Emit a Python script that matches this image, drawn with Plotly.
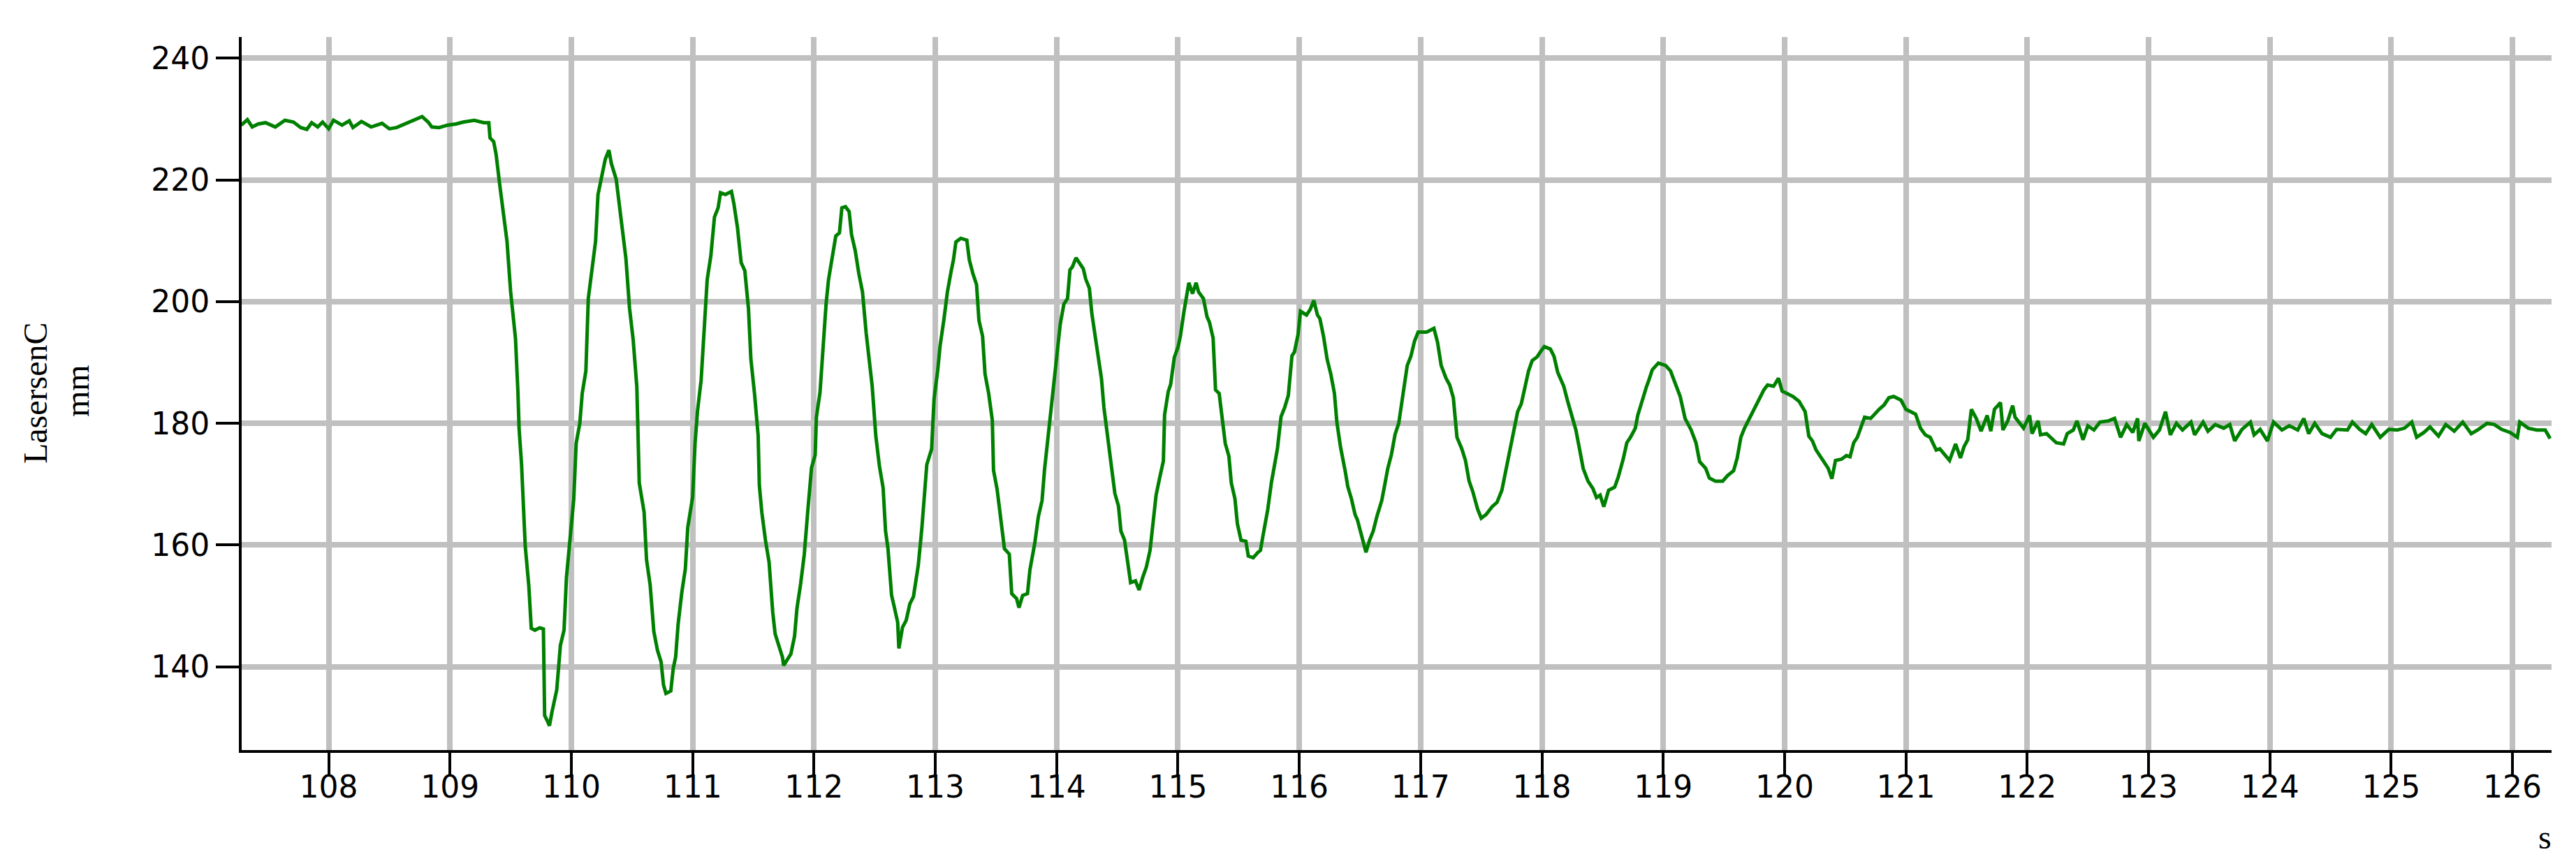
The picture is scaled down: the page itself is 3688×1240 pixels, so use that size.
import plotly.graph_objects as go

# time (s)
t_flat = [107.28, 107.33, 107.37, 107.42, 107.48, 107.56, 107.64, 107.71, 107.77, 107.82, 107.86,
          107.91, 107.95, 108.00, 108.04, 108.11, 108.17, 108.20, 108.27, 108.35, 108.44, 108.50,
          108.56, 108.65, 108.70, 108.77, 108.82, 108.85, 108.91, 108.98, 109.05, 109.11, 109.20,
          109.28, 109.32]
v_flat = [229.0, 229.9, 228.7, 229.2, 229.4, 228.7, 229.8, 229.5, 228.6, 228.3, 229.4,
          228.7, 229.5, 228.4, 229.8, 229.0, 229.7, 228.6, 229.6, 228.7, 229.3, 228.4,
          228.6, 229.4, 229.8, 230.4, 229.5, 228.7, 228.6, 229.0, 229.2, 229.5, 229.8,
          229.4, 229.4]

t_osc = [109.33, 109.36, 109.38, 109.41, 109.44, 109.47, 109.50, 109.54, 109.56, 109.57, 109.59,
         109.62, 109.65, 109.67, 109.70, 109.74, 109.77, 109.78, 109.80, 109.82, 109.84, 109.86,
         109.88, 109.91, 109.94, 109.96, 109.99, 110.02, 110.04, 110.07, 110.09, 110.12, 110.14,
         110.17, 110.20, 110.22, 110.25, 110.28, 110.31, 110.33, 110.37, 110.39, 110.42, 110.45,
         110.48, 110.51, 110.54, 110.56, 110.60, 110.62, 110.65, 110.68, 110.71, 110.74, 110.76,
         110.78, 110.82, 110.84, 110.86, 110.88, 110.91, 110.94, 110.96, 111.00, 111.02, 111.04,
         111.07, 111.10, 111.12, 111.15, 111.18, 111.21, 111.23, 111.27, 111.32, 111.34, 111.37,
         111.40, 111.43, 111.46, 111.48, 111.51, 111.54, 111.55, 111.57, 111.60, 111.63, 111.66,
         111.68, 111.71, 111.74, 111.75, 111.78, 111.81, 111.84, 111.86, 111.89, 111.92, 111.95,
         111.98, 112.01, 112.02, 112.05, 112.08, 112.10, 112.12, 112.16, 112.18, 112.21, 112.23,
         112.26, 112.29, 112.31, 112.34, 112.37, 112.40, 112.43, 112.45, 112.48, 112.51, 112.54,
         112.57, 112.59, 112.61, 112.64, 112.66, 112.69, 112.70, 112.73, 112.76, 112.79, 112.82,
         112.86, 112.89, 112.93, 112.97, 112.99, 113.02, 113.04, 113.07, 113.10, 113.13, 113.15,
         113.17, 113.21, 113.26, 113.28, 113.31, 113.34, 113.36, 113.39, 113.41, 113.44, 113.47,
         113.48, 113.51, 113.54, 113.57, 113.61, 113.63, 113.67, 113.69, 113.72, 113.76, 113.78,
         113.82, 113.85, 113.88, 113.90, 113.93, 113.95, 113.98, 114.00, 114.03, 114.06, 114.09,
         114.11, 114.13, 114.16, 114.19, 114.22, 114.24, 114.27, 114.29, 114.32, 114.35, 114.37,
         114.39, 114.42, 114.45, 114.48, 114.51, 114.53, 114.56, 114.58, 114.61, 114.65, 114.68,
         114.71, 114.74, 114.77, 114.79, 114.82, 114.85, 114.88, 114.89, 114.92, 114.94, 114.97,
         115.00, 115.02, 115.05, 115.07, 115.09, 115.12, 115.15, 115.17, 115.21, 115.24, 115.26,
         115.29, 115.31, 115.34, 115.36, 115.39, 115.42, 115.44, 115.47, 115.49, 115.52, 115.56,
         115.58, 115.62, 115.66, 115.68, 115.70, 115.74, 115.77, 115.80, 115.82, 115.85, 115.88,
         115.91, 115.94, 115.96, 115.99, 116.01, 116.06, 116.09, 116.12, 116.15, 116.17, 116.20,
         116.23, 116.26, 116.29, 116.31, 116.34, 116.38, 116.40, 116.43, 116.46, 116.48, 116.51,
         116.55, 116.58, 116.61, 116.64, 116.68, 116.70, 116.73, 116.76, 116.79, 116.82, 116.86,
         116.89, 116.92, 116.95, 116.98, 117.05, 117.11, 117.14, 117.17, 117.21, 117.24, 117.27,
         117.30, 117.34, 117.37, 117.40, 117.43, 117.47, 117.50, 117.54, 117.59, 117.63, 117.67,
         117.70, 117.73, 117.76, 117.80, 117.83, 117.86, 117.89, 117.92, 117.96, 117.99, 118.02,
         118.07, 118.10, 118.13, 118.18, 118.21, 118.25, 118.28, 118.31, 118.34, 118.38, 118.42,
         118.45, 118.48, 118.51, 118.55, 118.60, 118.63, 118.67, 118.70, 118.73, 118.77, 118.79,
         118.82, 118.86, 118.88, 118.91, 118.96, 119.02, 119.06, 119.09, 119.14, 119.18, 119.23,
         119.27, 119.30, 119.35, 119.38, 119.43, 119.49, 119.53, 119.58, 119.61, 119.64, 119.67,
         119.70, 119.73, 119.76, 119.80, 119.83, 119.86, 119.91, 119.95, 119.98, 120.03, 120.07,
         120.12, 120.17, 120.20, 120.23, 120.26, 120.29, 120.32, 120.36, 120.39, 120.42, 120.47,
         120.51, 120.54, 120.57, 120.60, 120.63, 120.66, 120.71, 120.74, 120.78, 120.82, 120.86,
         120.90, 120.96, 121.00, 121.04, 121.08, 121.12, 121.16, 121.20, 121.25, 121.28, 121.31,
         121.36, 121.41, 121.45, 121.48, 121.51]
v_osc = [226.9, 226.3, 224.2, 219.2, 215.0, 209.9, 201.6, 193.9, 185.1, 179.0, 173.2,
         159.9, 153.2, 146.3, 146.0, 146.4, 146.2, 132.0, 131.2, 130.3, 132.5, 134.1,
         136.2, 143.5, 146.0, 154.7, 161.8, 167.5, 176.7, 180.0, 184.9, 188.6, 200.5,
         204.7, 209.9, 217.6, 220.7, 223.4, 224.9, 222.7, 220.1, 217.0, 211.3, 207.1,
         198.9, 193.7, 186.0, 170.2, 165.4, 157.6, 153.4, 145.8, 142.7, 140.8, 137.0,
         135.6, 136.0, 139.7, 141.6, 146.9, 152.1, 156.1, 162.9, 167.9, 176.7, 182.0,
         187.1, 196.7, 203.6, 207.5, 213.9, 215.4, 217.9, 217.6, 218.1, 216.1, 212.1,
         206.4, 205.1, 198.9, 190.6, 184.9, 178.0, 169.8, 165.4, 160.8, 157.2, 149.0,
         145.4, 143.5, 141.6, 140.2, 141.2, 142.1, 145.0, 149.6, 153.6, 158.4, 165.8,
         172.7, 174.8, 181.0, 185.1, 194.8, 199.6, 203.6, 208.8, 210.8, 211.3, 215.4,
         215.6, 214.8, 211.0, 208.4, 204.6, 201.6, 194.9, 191.4, 186.1, 177.9, 172.9,
         169.4, 162.3, 159.4, 151.7, 150.0, 147.3, 143.0, 146.5, 147.6, 150.3, 151.5,
         156.7, 162.9, 173.2, 175.8, 184.0, 188.7, 192.8, 196.9, 201.6, 204.9, 206.9,
         209.8, 210.4, 210.1, 206.9, 204.6, 202.8, 196.9, 194.3, 188.1, 184.9, 180.5,
         172.3, 169.1, 164.4, 159.4, 158.5, 152.0, 151.2, 149.7, 151.7, 152.0, 155.9,
         160.3, 164.7, 167.3, 172.3, 177.9, 181.1, 187.5, 191.1, 196.3, 199.6, 200.5,
         205.2, 205.7, 207.2, 206.3, 205.4, 203.7, 202.2, 198.1, 194.0, 190.2, 187.3,
         182.6, 177.6, 173.2, 168.5, 166.4, 162.3, 160.8, 157.6, 153.8, 154.1, 152.6,
         154.7, 156.4, 159.1, 162.3, 168.2, 171.1, 173.8, 181.4, 185.2, 186.4, 190.8,
         192.5, 194.3, 198.4, 201.0, 203.1, 201.3, 203.1, 201.6, 200.5, 197.5, 196.6,
         194.0, 185.5, 184.9, 181.1, 176.7, 174.6, 170.2, 167.6, 163.5, 160.8, 160.6,
         158.2, 157.9, 158.8, 159.1, 161.4, 165.8, 170.2, 173.8, 175.8, 181.1, 182.6,
         184.6, 191.1, 191.7, 194.6, 198.4, 197.8, 198.7, 200.2, 197.8, 197.2, 194.3,
         190.5, 188.1, 184.9, 180.2, 176.1, 172.0, 169.6, 167.6, 165.0, 164.1, 161.7,
         158.8, 160.8, 162.3, 164.7, 167.3, 169.4, 172.6, 174.9, 178.2, 180.0, 185.7,
         189.5, 191.0, 193.5, 195.0, 195.0, 195.6, 193.3, 189.5, 187.4, 186.3, 184.2,
         177.7, 175.8, 173.9, 170.5, 168.8, 165.9, 164.4, 165.0, 166.3, 167.0, 169.0,
         172.0, 174.7, 177.7, 181.9, 183.2, 185.9, 188.6, 190.3, 190.9, 191.8, 192.6,
         192.2, 191.0, 188.4, 186.1, 183.8, 181.1, 178.9, 175.8, 172.6, 170.5, 169.3,
         167.8, 168.2, 166.3, 169.0, 169.5, 171.2, 174.1, 176.8, 177.7, 179.2, 181.3,
         183.4, 185.9, 187.0, 188.8, 189.9, 189.5, 188.6, 186.9, 184.4, 180.8, 178.9,
         176.8, 173.7, 172.6, 171.0, 170.5, 170.5, 171.4, 172.2, 174.3, 177.7, 179.2,
         180.4, 181.5, 182.9, 184.6, 185.5, 186.3, 186.1, 187.4, 185.3, 184.8, 184.4,
         183.6, 181.9, 177.9, 177.1, 175.6, 174.7, 173.9, 172.6, 170.9, 173.9, 174.1,
         174.7, 174.5, 176.8, 177.7, 179.2, 181.0, 180.8, 181.5, 182.3, 183.0, 184.2,
         184.4, 183.8, 182.3, 181.9, 181.5, 179.2, 178.1, 177.7, 175.6, 175.8, 175.0,
         173.9, 176.6, 174.3, 176.2, 177.3]

t_tail = [121.54, 121.58, 121.62, 121.67, 121.70, 121.73, 121.78, 121.80, 121.84, 121.88, 121.90,
          121.97, 122.02, 122.04, 122.09, 122.11, 122.16, 122.21, 122.24, 122.30, 122.33, 122.38,
          122.41, 122.46, 122.50, 122.55, 122.60, 122.67, 122.72, 122.77, 122.82, 122.87, 122.91,
          122.92, 122.97, 123.04, 123.09, 123.14, 123.18, 123.23, 123.28, 123.35, 123.38, 123.45,
          123.49, 123.55, 123.62, 123.67, 123.71, 123.77, 123.84, 123.87, 123.92, 123.98, 124.03,
          124.10, 124.16, 124.23, 124.28, 124.32, 124.37, 124.43, 124.50, 124.55, 124.64, 124.68,
          124.74, 124.79, 124.84, 124.91, 124.98, 125.05, 125.11, 125.17, 125.21, 125.27, 125.32,
          125.39, 125.45, 125.52, 125.59, 125.66, 125.72, 125.79, 125.85, 125.91, 125.98, 126.04,
          126.06, 126.13, 126.20, 126.27, 126.31]
v_tail = [182.3, 180.8, 178.7, 181.3, 178.7, 182.3, 183.4, 178.9, 180.4, 182.9, 181.0,
          179.2, 181.3, 178.3, 180.4, 178.1, 178.3, 177.3, 176.8, 176.6, 178.3, 178.9,
          180.4, 177.3, 179.6, 178.9, 180.2, 180.4, 180.8, 177.7, 179.8, 178.5, 180.8,
          177.1, 180.0, 177.7, 178.9, 181.9, 178.1, 180.0, 178.9, 180.2, 178.1, 180.2,
          178.7, 179.8, 179.2, 179.8, 177.1, 179.0, 180.2, 178.1, 179.0, 177.1, 180.2,
          178.9, 179.6, 178.9, 180.8, 178.3, 180.0, 178.3, 177.7, 179.0, 178.9, 180.2,
          179.0, 178.3, 179.8, 177.7, 179.0, 178.9, 179.2, 180.2, 177.7, 178.5, 179.4,
          177.9, 179.8, 178.7, 180.2, 178.3, 179.0, 180.0, 179.8, 179.0, 178.5, 177.7,
          180.2, 179.2, 178.9, 178.9, 177.5]

time_s = t_flat + t_osc + t_tail
laser_mm = v_flat + v_osc + v_tail

x_ticks = list(range(108, 127))
y_ticks = [140, 160, 180, 200, 220, 240]

W, H = 3688, 1240
ML, MR, MT, MB = 338, 43, 45, 174
pw, ph = W - ML - MR, H - MT - MB

fig = go.Figure()
fig.add_trace(go.Scatter(x=time_s, y=laser_mm, mode="lines",
                         line=dict(color="#008000", width=5), showlegend=False))

tickfont = dict(family="DejaVu Sans", size=44, color="black")
fig.update_xaxes(range=[107.283, 126.322], tickvals=x_ticks, showgrid=True,
                 gridcolor="#C0C0C0", gridwidth=8, showline=True, linecolor="black",
                 linewidth=4, ticks="outside", ticklen=33, tickwidth=4, tickcolor="black",
                 tickfont=tickfont, zeroline=False, ticklabelstandoff=-22)
fig.update_yaxes(range=[126.30, 243.48], tickvals=y_ticks, showgrid=True,
                 gridcolor="#C0C0C0", gridwidth=8, showline=True, linecolor="black",
                 linewidth=4, ticks="outside", ticklen=33, tickwidth=4, tickcolor="black",
                 tickfont=tickfont, zeroline=False)

def px_x(p):
    return (p - ML) / pw

def px_y(p):
    return (H - MB - p) / ph

serif = dict(family="Liberation Serif", size=48, color="black")
fig.add_annotation(text="LasersenC", xref="paper", yref="paper", x=px_x(42), y=px_y(555),
                   xanchor="center", yanchor="middle", textangle=-90, showarrow=False, font=serif)
fig.add_annotation(text="mm", xref="paper", yref="paper", x=px_x(102), y=px_y(552),
                   xanchor="center", yanchor="middle", textangle=-90, showarrow=False, font=serif)
fig.add_annotation(text="s", xref="paper", yref="paper", x=px_x(3635), y=px_y(1190),
                   xanchor="center", yanchor="middle", showarrow=False, font=serif)

fig.update_layout(width=W, height=H, margin=dict(l=ML, r=MR, t=MT, b=MB, autoexpand=False),
                  plot_bgcolor="white", paper_bgcolor="white")

fig.write_html("out.html")
